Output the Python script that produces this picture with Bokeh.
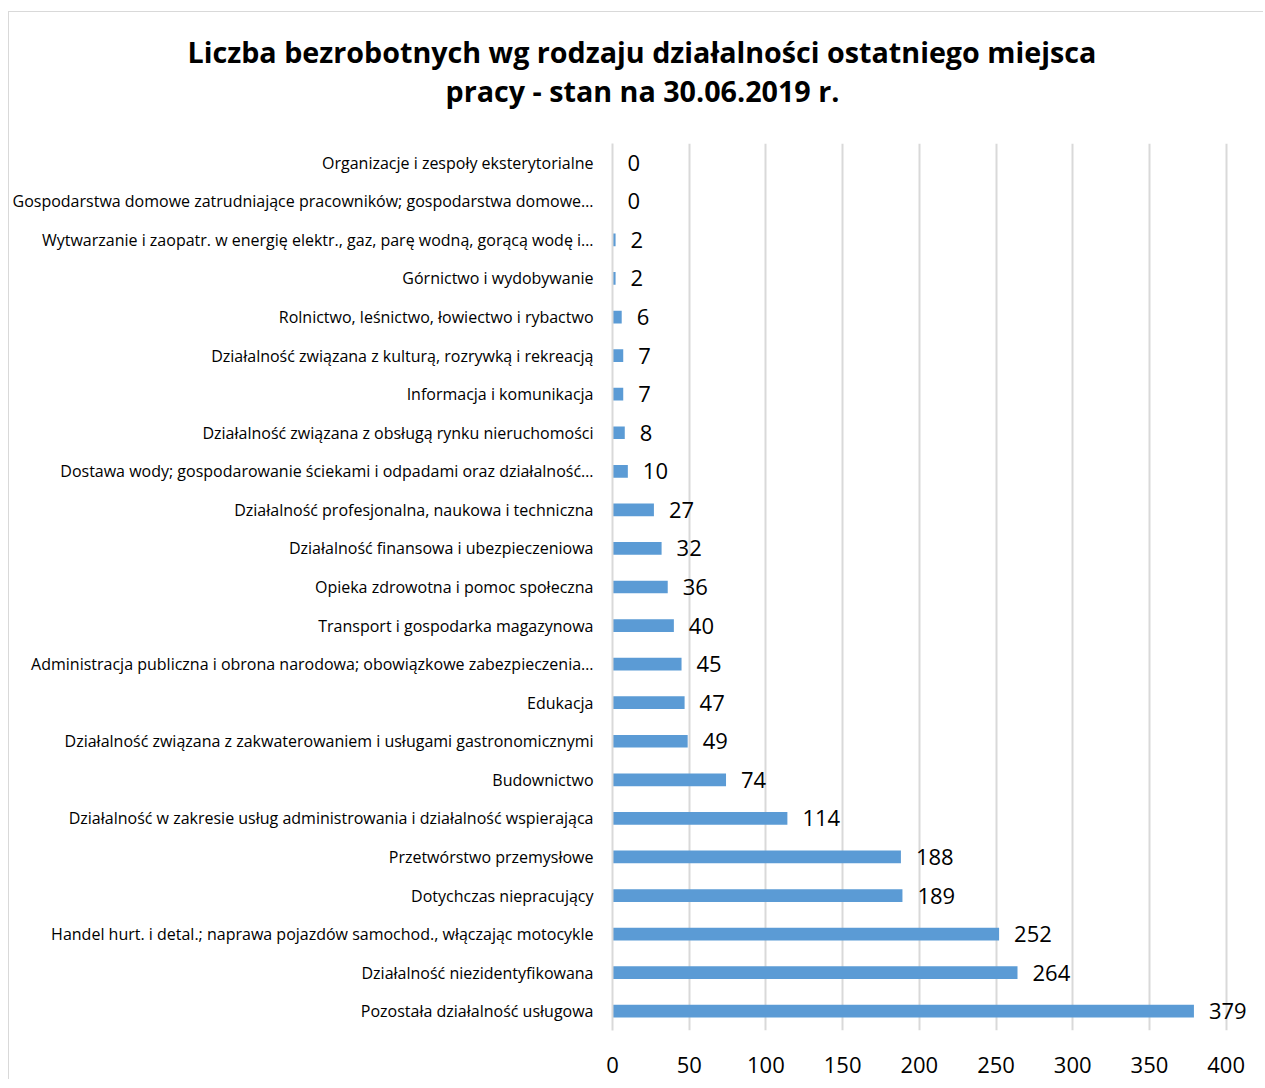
from bokeh.plotting import figure
from bokeh.models import ColumnDataSource, FactorRange, Range1d, LabelSet, Title, FixedTicker
from bokeh.core.properties import value
from bokeh.embed import file_html
from bokeh.resources import INLINE

categories = [
    "Organizacje i zespoły eksterytorialne",
    "Gospodarstwa domowe zatrudniające pracowników; gospodarstwa domowe…",
    "Wytwarzanie i zaopatr. w energię elektr., gaz, parę wodną, gorącą wodę i…",
    "Górnictwo i wydobywanie",
    "Rolnictwo, leśnictwo, łowiectwo i rybactwo",
    "Działalność związana z kulturą, rozrywką i rekreacją",
    "Informacja i komunikacja",
    "Działalność związana z obsługą rynku nieruchomości",
    "Dostawa wody; gospodarowanie ściekami i odpadami oraz działalność…",
    "Działalność profesjonalna, naukowa i techniczna",
    "Działalność finansowa i ubezpieczeniowa",
    "Opieka zdrowotna i pomoc społeczna",
    "Transport i gospodarka magazynowa",
    "Administracja publiczna i obrona narodowa; obowiązkowe zabezpieczenia…",
    "Edukacja",
    "Działalność związana z zakwaterowaniem i usługami gastronomicznymi",
    "Budownictwo",
    "Działalność w zakresie usług administrowania i działalność wspierająca",
    "Przetwórstwo przemysłowe",
    "Dotychczas niepracujący",
    "Handel hurt. i detal.; naprawa pojazdów samochod., włączając motocykle",
    "Działalność niezidentyfikowana",
    "Pozostała działalność usługowa",
]
values = [0, 0, 2, 2, 6, 7, 7, 8, 10, 27, 32, 36, 40, 45, 47, 49, 74, 114, 188, 189, 252, 264, 379]
x_ticks = [0, 50, 100, 150, 200, 250, 300, 350, 400]
title_lines = [
    "Liczba bezrobotnych wg rodzaju działalności ostatniego miejsca",
    "pracy - stan na 30.06.2019 r.",
]

FONT = "Open Sans"
W, H = 1255, 1068

source = ColumnDataSource(dict(cat=categories, val=values, lab=[str(v) for v in values]))

p = figure(
    width=W, height=H,
    y_range=FactorRange(factors=categories[::-1], range_padding=0),
    x_range=Range1d(0, 425),
    output_backend="svg", toolbar_location=None,
    min_border_left=601, min_border_top=131, min_border_bottom=50, min_border_right=0,
)
p.margin = (11, 0, 0, 8)
p.outline_line_color = None
p.styles = {"border-top": "1px solid #d9d9d9", "border-left": "1px solid #d9d9d9"}

p.hbar(y="cat", left=0, right="val", height=0.33, source=source,
       fill_color="#5B9BD5", line_color=None)

labels = LabelSet(x="val", y="cat", text="lab", source=source, x_offset=15,
                  text_font=value(FONT), text_font_size=value("22px"),
                  text_color=value("#000000"),
                  text_baseline=value("middle"), text_align=value("left"))
p.add_layout(labels)

# x axis
p.xaxis.ticker = FixedTicker(ticks=x_ticks)
p.xaxis.axis_line_color = None
p.xaxis.major_tick_line_color = None
p.xaxis.minor_tick_line_color = None
p.xaxis.major_label_text_font = FONT
p.xaxis.major_label_text_font_size = "22px"
p.xaxis.major_label_text_color = "#000000"
p.xaxis.major_label_standoff = 20

# y axis
p.yaxis.axis_line_color = "#d9d9d9"
p.yaxis.axis_line_width = 2
p.yaxis.major_tick_line_color = None
p.yaxis.minor_tick_line_color = None
p.yaxis.major_label_text_font = FONT
p.yaxis.major_label_text_font_size = "16px"
p.yaxis.major_label_text_color = "#000000"
p.yaxis.major_label_standoff = 13

p.xgrid.ticker = FixedTicker(ticks=x_ticks)
p.xgrid.grid_line_color = "#d9d9d9"
p.xgrid.grid_line_width = 2
p.ygrid.grid_line_color = None

# title: spacer, then line 2, then line 1 (stacked upward from the frame)
p.add_layout(Title(text=" ", text_font_size="1px", standoff=31), "above")
p.add_layout(Title(text=title_lines[1], align="left", offset=-167, standoff=0,
                   text_font=FONT, text_font_style="bold", text_font_size="28.7px",
                   text_color="#000000"), "above")
p.add_layout(Title(text=title_lines[0], align="left", offset=-425, standoff=-5,
                   text_font=FONT, text_font_style="bold", text_font_size="28.7px",
                   text_color="#000000"), "above")

open("out.html", "w").write(file_html(p, INLINE))
